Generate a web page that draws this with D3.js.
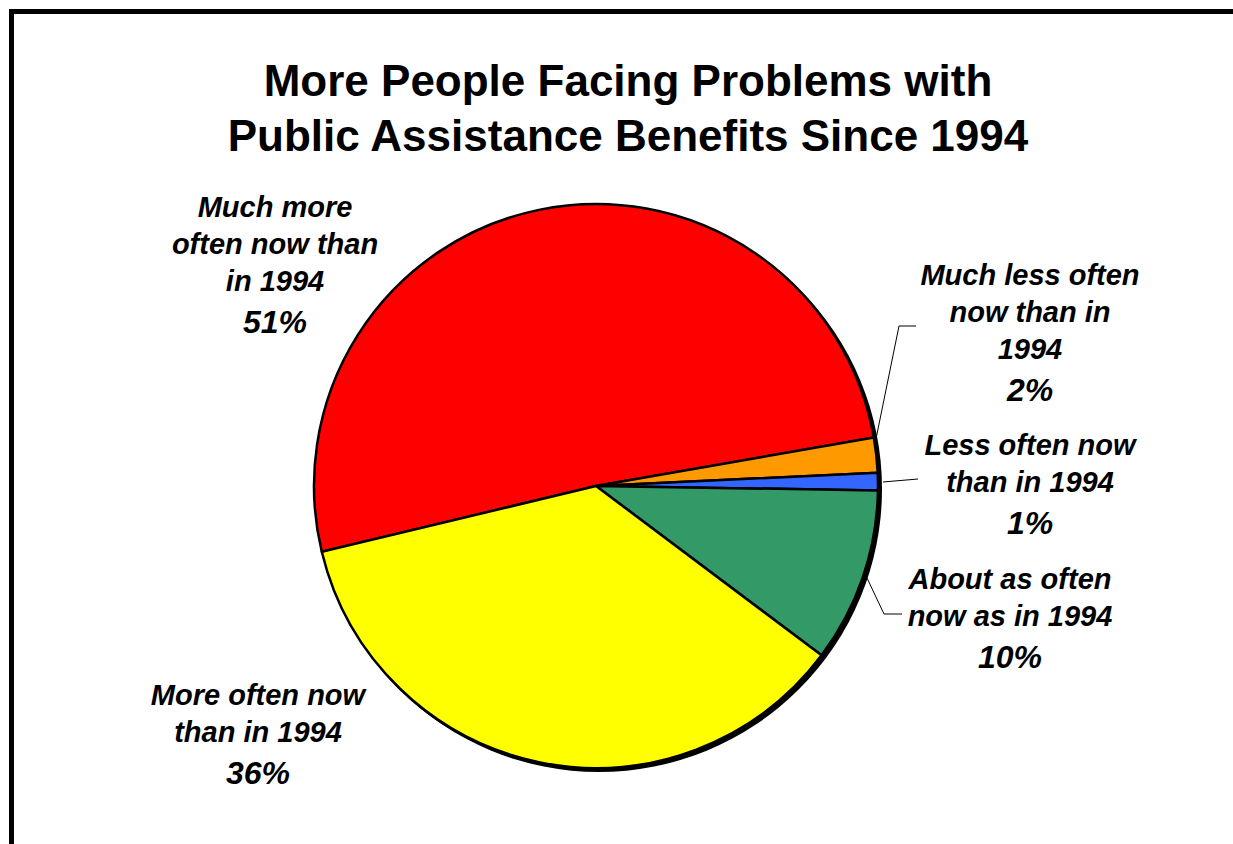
<!DOCTYPE html>
<html>
<head>
<meta charset="utf-8">
<script src="https://cdn.jsdelivr.net/npm/d3@7"></script>
<style>
  html, body { margin: 0; padding: 0; background: #fff; }
  svg { display: block; }
  text { font-family: "Liberation Sans", Arial, Helvetica, sans-serif; font-weight: bold; }
</style>
</head>
<body>
<svg id="chart" width="1233" height="844"></svg>
<script>
// Survey responses (percent of respondents)
const categories = [
  "Much more often now than in 1994",
  "Much less often now than in 1994",
  "Less often now than in 1994",
  "About as often now as in 1994",
  "More often now than in 1994"
];
const values = [51, 2, 1, 10, 36];
const colors = ["#FF0000", "#FF9900", "#3366FF", "#339966", "#FFFF00"];
// Label lines as they wrap beside the pie
const labelLines = [
  ["Much more", "often now than", "in 1994"],
  ["Much less often", "now than in", "1994"],
  ["Less often now", "than in 1994"],
  ["About as often", "now as in 1994"],
  ["More often now", "than in 1994"]
];
const titleLines = ["More People Facing Problems with", "Public Assistance Benefits Since 1994"];

const W = 1233, H = 844;
const svg = d3.select("#chart");

// Outer frame
svg.append("rect")
  .attr("x", 11.5).attr("y", 11.5)
  .attr("width", 1300).attr("height", 900)
  .attr("fill", "none").attr("stroke", "#000").attr("stroke-width", 5);

// Title
svg.append("g").selectAll("text").data(titleLines).join("text")
  .attr("x", 628).attr("y", (d, i) => 96 + i * 55)
  .attr("text-anchor", "middle")
  .attr("font-size", 44)
  .text(d => d);

const cx = 596, cy = 486, R = 282;
const startA = 256.5 * Math.PI / 180;

const pie = d3.pie().sort(null).value(d => d)
  .startAngle(startA).endAngle(startA + 2 * Math.PI);
const arcs = pie(values);
const arc = d3.arc().innerRadius(0).outerRadius(R);

const g = svg.append("g").attr("transform", `translate(${cx},${cy})`);

// Drop shadow under the pie
g.append("circle").attr("cx", 3).attr("cy", 3).attr("r", R + 1).attr("fill", "#000");

g.selectAll("path.slice").data(arcs).join("path")
  .attr("class", "slice")
  .attr("d", arc)
  .attr("fill", (d, i) => colors[i])
  .attr("stroke", "#000")
  .attr("stroke-width", 2.5)
  .attr("stroke-linejoin", "round");

// Label placement (centre x, first baseline y) and leader lines
const labelPos = [
  { x: 275, y: 217 },
  { x: 1030, y: 285 },
  { x: 1030, y: 455 },
  { x: 1010, y: 589 },
  { x: 258, y: 705 }
];
const lineGap = 37;
const pctGap = 42;

const pt = (angleDeg, r) => {
  const a = angleDeg * Math.PI / 180;
  return [cx + r * Math.sin(a), cy - r * Math.cos(a)];
};

// Leader lines: start on the rim at a given angle, bend, end near the label
const leaders = [
  { idx: 1, pts: [pt(79.9, R + 3), [899, 326], [916, 326]] },
  { idx: 2, pts: [pt(89.2, R + 5), [918, 479]] },
  { idx: 3, pts: [pt(108.5, R + 3), [884, 614], [902, 614]] }
];
svg.append("g").selectAll("path").data(leaders).join("path")
  .attr("d", d => d3.line()(d.pts))
  .attr("fill", "none").attr("stroke", "#000").attr("stroke-width", 1);

const lg = svg.append("g");
labelLines.forEach((lines, i) => {
  const p = labelPos[i];
  const t = lg.append("text")
    .attr("text-anchor", "middle")
    .attr("font-style", "italic");
  lines.forEach((ln, j) => {
    t.append("tspan").attr("x", p.x).attr("y", p.y + j * lineGap)
      .attr("font-size", 29).text(ln);
  });
  t.append("tspan").attr("x", p.x).attr("y", p.y + (lines.length - 1) * lineGap + pctGap)
    .attr("font-size", 32).text(values[i] + "%");
});
</script>
</body>
</html>
